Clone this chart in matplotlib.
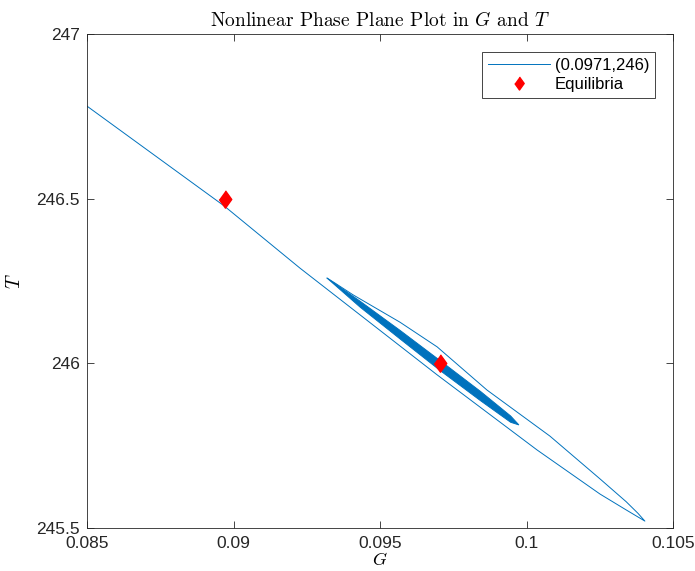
import numpy as np
import matplotlib
matplotlib.use("Agg")
import matplotlib.pyplot as plt

# trajectory in the (G, T) plane
traj_G = [0.08500, 0.08968, 0.09227, 0.09695, 0.10036, 0.10251, 0.10340,
          0.10404, 0.10380, 0.10340, 0.10251, 0.10080, 0.09865, 0.09695,
          0.09568, 0.09408, 0.09346, 0.09319]
traj_T = [246.781, 246.478, 246.289, 245.965, 245.737, 245.603, 245.555,
          245.521, 245.545, 245.580, 245.649, 245.779, 245.919, 246.050,
          246.125, 246.208, 246.244, 246.259]

# dense inner spiral, drawn as its outline
blob_G = [0.09319, 0.09433, 0.09570, 0.09707, 0.09844, 0.09946, 0.09974,
          0.09946, 0.09844, 0.09707, 0.09570, 0.09433]
blob_T = [246.259, 246.188, 246.099, 246.007, 245.914, 245.840, 245.813,
          245.821, 245.886, 245.977, 246.073, 246.170]

eq_G = [0.0897, 0.09705]
eq_T = [246.5, 246.0]

xticks = [0.085, 0.09, 0.095, 0.1, 0.105]
xtick_labels = ["0.085", "0.09", "0.095", "0.1", "0.105"]
yticks = [245.5, 246, 246.5, 247]
ytick_labels = ["245.5", "246", "246.5", "247"]

blue = "#0072BD"
axcol = "#262626"

plt.rcParams["font.family"] = ["Liberation Sans", "DejaVu Sans"]
plt.rcParams["mathtext.fontset"] = "cm"

fig = plt.figure(figsize=(6.95, 5.71), dpi=100)
ax = fig.add_axes([87 / 695, 43 / 571, 586 / 695, 494 / 571])

ax.plot(traj_G, traj_T, color=blue, lw=0.7, label="(0.0971,246)")
ax.fill(blob_G, blob_T, color=blue, lw=0.7)
ax.plot(eq_G, eq_T, ls="none", marker=[(0, 1), (0.72, 0), (0, -1), (-0.72, 0)],
        ms=12.5, color="red", mec="red", label="Equilibria")

ax.set_xlim(0.085, 0.105)
ax.set_ylim(245.5, 247)
ax.set_xticks(xticks)
ax.set_xticklabels(xtick_labels)
ax.set_yticks(yticks)
ax.set_yticklabels(ytick_labels)

ax.tick_params(direction="in", length=5, width=0.6, colors=axcol,
               labelsize=12.5, top=True, right=True)
ax.tick_params(axis="x", pad=6)
ax.tick_params(axis="y", pad=5)
for s in ax.spines.values():
    s.set_color(axcol)
    s.set_linewidth(0.6)

ax.set_title("Nonlinear Phase Plane Plot in $G$ and $T$", family="cmr10",
             fontsize=14, color="k", pad=6)
ax.set_xlabel("$G$", fontsize=13, labelpad=0.5)
ax.set_ylabel("$T$", fontsize=14, labelpad=9)

leg = ax.legend(loc="upper right", bbox_to_anchor=(1 - 18 / 586, 1 - 18 / 494),
                borderaxespad=0, fontsize=12, fancybox=False, framealpha=1,
                edgecolor=axcol, handlelength=3.7, handletextpad=0.3,
                labelspacing=0.25, borderpad=0.35, markerscale=0.75)
leg.get_frame().set_linewidth(0.6)

fig.savefig("out.png", dpi=100)
